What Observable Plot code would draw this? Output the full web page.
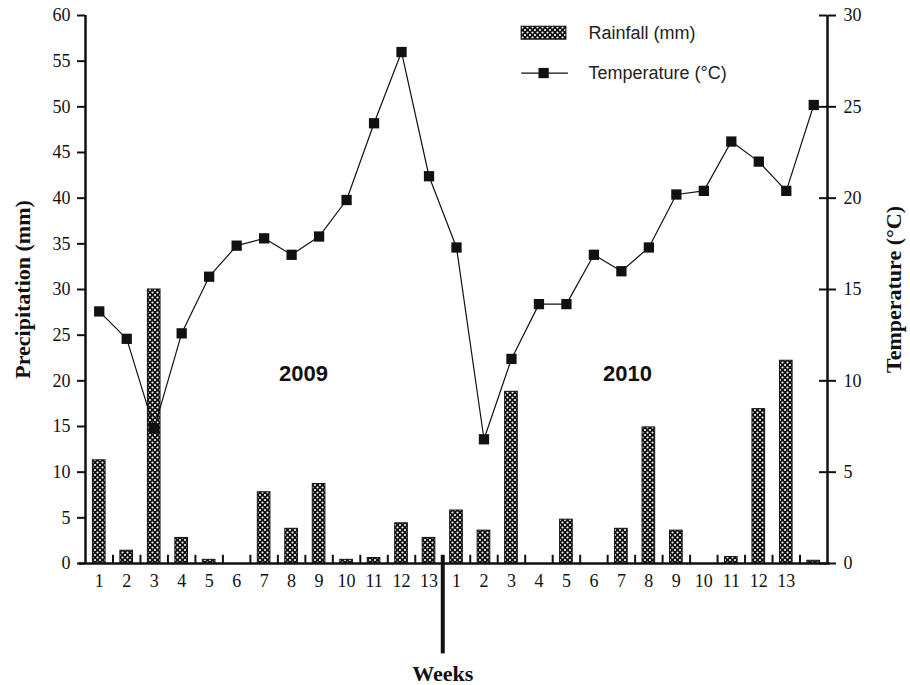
<!DOCTYPE html>
<html><head><meta charset="utf-8">
<script src="https://cdn.jsdelivr.net/npm/d3@7"></script>
<script src="https://cdn.jsdelivr.net/npm/@observablehq/plot@0.6"></script>
<style>body{margin:0;background:#fff}</style>
</head><body><div id="chart"></div>
<script>
// ---- data ----
const weekLabels = ["1","2","3","4","5","6","7","8","9","10","11","12","13",
                    "1","2","3","4","5","6","7","8","9","10","11","12","13",""];
const rainfall = [11.3,1.4,30.0,2.8,0.4,0,7.8,3.8,8.7,0.4,0.6,4.4,2.8,
                  5.8,3.6,18.8,0,4.8,0,3.8,14.9,3.6,0,0.7,16.9,22.2,0.3];
const temperature = [13.8,12.3,7.4,12.6,15.7,17.4,17.8,16.9,17.9,19.9,24.1,28.0,21.2,
                     17.3,6.8,11.2,14.2,14.2,16.9,16.0,17.3,20.2,20.4,23.1,22.0,20.4,25.1];
const years = ["2009","2010"];
const legendLabels = ["Rainfall (mm)","Temperature (°C)"];
const leftTicks = [0,5,10,15,20,25,30,35,40,45,50,55,60];
const rightTicks = [0,5,10,15,20,25,30];

const data = weekLabels.map((w,i)=>({pos:i+1, week:w, rain:rainfall[i], temp:temperature[i]}));
const tScale = 2; // temperature axis (0-30) mapped onto precipitation axis (0-60)
const boundaries = d3.range(1.5, 27, 1).filter(b => b !== 13.5);
const pat = "url(#xhatch)";
const ink = "#111";
const serif = "'Liberation Serif','Times New Roman',serif";
const sans = "'Liberation Sans',Arial,sans-serif";

const svg = Plot.plot({
  width: 910, height: 685,
  marginLeft: 85, marginRight: 83, marginTop: 15, marginBottom: 122,
  x: {domain: [0.5, 27.5]},
  y: {domain: [0, 60]},
  style: {fontFamily: serif, fontSize: "18px", color: ink, background: "#fff"},
  marks: [
    Plot.rect(data.filter(d => d.rain > 0), {x1: d => d.pos - 0.23, x2: d => d.pos + 0.23, y1: 0, y2: "rain", fill: pat, stroke: ink, strokeWidth: 1}),
    Plot.line(data, {x: "pos", y: d => d.temp * tScale, stroke: ink, strokeWidth: 1.2}),
    Plot.dot(data, {x: "pos", y: d => d.temp * tScale, symbol: "square", r: 5.8, fill: ink}),
    // axes
    Plot.axisY({anchor: "left", ticks: leftTicks, tickSize: 8, tickPadding: 7, strokeWidth: 2, label: null}),
    Plot.axisY({anchor: "right", ticks: rightTicks.map(t => t * tScale), tickFormat: d => d / tScale, tickSize: 8, tickPadding: 8, strokeWidth: 2, label: null}),
    Plot.ruleY(rightTicks.map(t => t * tScale), {x1: 27.5 - 8 / 27.48, x2: 27.5, strokeWidth: 2, stroke: ink}),
    Plot.axisX({ticks: data.map(d => d.pos), tickFormat: p => weekLabels[p - 1], tickSize: 0, tickPadding: 11, label: null}),
    Plot.ruleX(boundaries, {y1: 0, y2: 0.9, strokeWidth: 2, stroke: ink}),
    Plot.ruleX([13.5], {y1: 0.9, y2: -9.9, strokeWidth: 4, stroke: ink}),
    Plot.ruleX([0.5, 27.5], {strokeWidth: 2.5, stroke: ink}),
    Plot.ruleY([0], {x1: 0.27, x2: 27.6, strokeWidth: 2.5, stroke: ink}),
    // titles
    Plot.text(["Precipitation (mm)"], {text: d => d, frameAnchor: "left", textAnchor: "middle", dx: -63, rotate: -90, fontWeight: "bold", fontSize: 22, fill: ink}),
    Plot.text(["Temperature (°C)"], {text: d => d, frameAnchor: "right", textAnchor: "middle", dx: 66, rotate: -90, fontWeight: "bold", fontSize: 22, fill: ink}),
    Plot.text(["Weeks"], {text: d => d, x: 13.5, frameAnchor: "bottom", lineAnchor: "middle", dy: 110, fontWeight: "bold", fontSize: 22, fill: ink}),
    Plot.text(years, {text: d => d, x: [8.43, 20.22], y: [20.7, 20.7], fontFamily: sans, fontWeight: "bold", fontSize: 22, fill: ink}),
    // legend
    Plot.rect([legendLabels[0]], {x1: 16.37, x2: 18.0, y1: 57.35, y2: 58.77, fill: pat, stroke: ink, strokeWidth: 1}),
    Plot.line([[16.37, 53.7], [18.04, 53.7]], {stroke: ink, strokeWidth: 1.2}),
    Plot.dot([[17.17, 53.7]], {symbol: "square", r: 5.8, fill: ink}),
    Plot.text(legendLabels, {text: d => d, x: 18.8, y: [58.1, 53.7], textAnchor: "start", fontFamily: sans, fontSize: 18, fill: "#222"})
  ]
});

d3.select(svg).insert("defs", ":first-child").html(`
  <pattern id="xhatch" patternUnits="userSpaceOnUse" width="5" height="5">
    <rect width="5" height="5" fill="#111"/>
    <circle cx="0" cy="0" r="1.05" fill="#fff"/>
    <circle cx="5" cy="0" r="1.05" fill="#fff"/>
    <circle cx="0" cy="5" r="1.05" fill="#fff"/>
    <circle cx="5" cy="5" r="1.05" fill="#fff"/>
    <circle cx="2.5" cy="2.5" r="1.05" fill="#fff"/>
  </pattern>`);

document.getElementById("chart").appendChild(svg);
</script>
</body></html>
